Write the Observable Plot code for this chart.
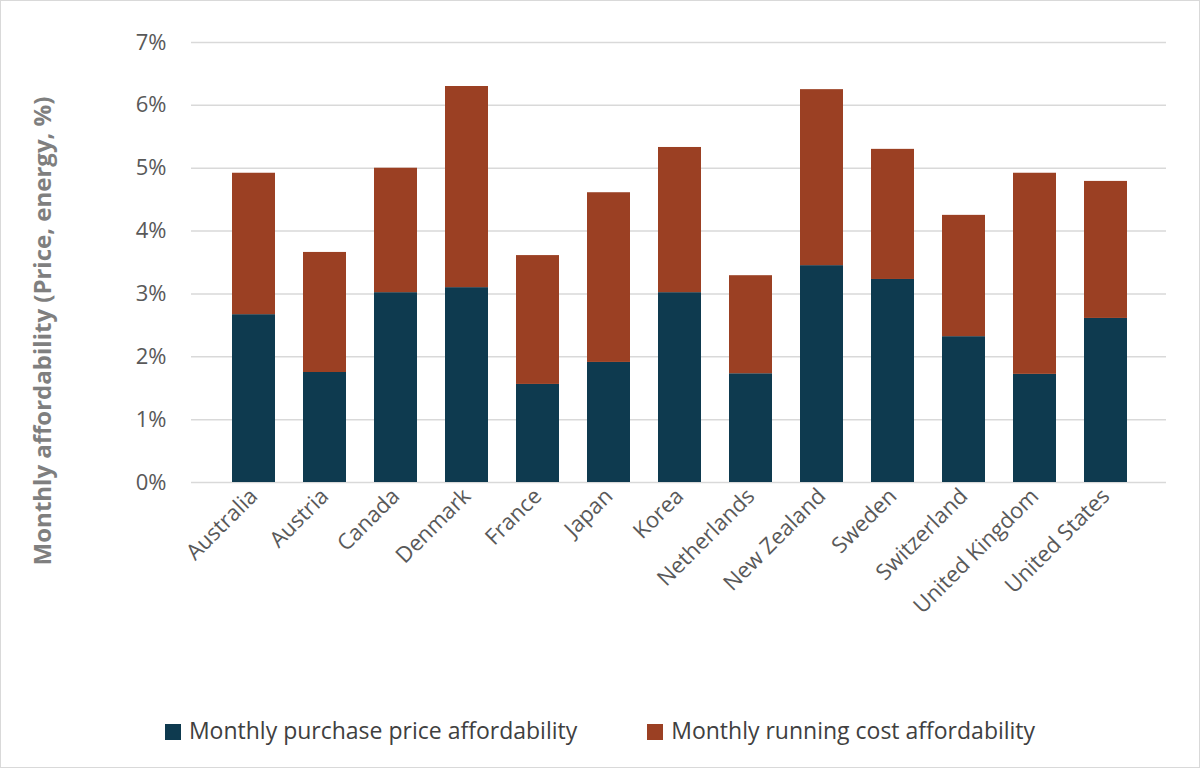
<!DOCTYPE html>
<html><head><meta charset="utf-8">
<script src="https://cdn.jsdelivr.net/npm/d3@7"></script>
<script src="https://cdn.jsdelivr.net/npm/@observablehq/plot@0.6"></script>
<style>
body{margin:0;background:#fff;font-family:"Open Sans",Arial,sans-serif;}
#wrap{position:absolute;left:0;top:0;width:1198px;height:766px;border:1px solid #d9d9d9;overflow:hidden;}
#chart{position:absolute;left:0;top:0;}
#ylab{position:absolute;left:40px;top:330px;transform:translate(-50%,-50%) rotate(-90deg);white-space:nowrap;font-size:24px;font-weight:bold;color:#7f7f7f;}
#legend{position:absolute;top:713px;left:0;width:1198px;display:flex;justify-content:center;gap:70px;font-size:23px;color:#404040;}
#legend span.sw{display:inline-block;width:16px;height:16px;margin-right:8px;vertical-align:-1px;}
</style></head><body>
<div id="wrap"><div id="chart"></div>
<div id="ylab">Monthly affordability (Price, energy, %)</div>
<div id="legend"><div><span class="sw" style="background:#0e3a4f"></span>Monthly purchase price affordability</div>
<div><span class="sw" style="background:#9b4023"></span>Monthly running cost affordability</div></div></div>
<script>
const countries=["Australia","Austria","Canada","Denmark","France","Japan","Korea","Netherlands","New Zealand","Sweden","Switzerland","United Kingdom","United States"];
const purchase=[2.67,1.75,3.02,3.10,1.56,1.91,3.02,1.73,3.45,3.23,2.32,1.72,2.61];
const total=[4.92,3.66,5.00,6.30,3.61,4.61,5.33,3.29,6.25,5.30,4.25,4.92,4.79];
const series=["Monthly purchase price affordability","Monthly running cost affordability"];
const colors=["#0e3a4f","#9b4023"];
const data=[];
countries.forEach((c,i)=>{data.push({c,s:series[0],v:purchase[i]});data.push({c,s:series[1],v:+(total[i]-purchase[i]).toFixed(2)});});
const chart=Plot.plot({
 width:1198,height:680,marginTop:41,marginBottom:199,marginLeft:200,marginRight:41,
 style:{fontSize:"22px",color:"#595959",fontFamily:"Open Sans, Arial, sans-serif",overflow:"visible"},
 x:{domain:countries,padding:0.39,label:null,tickRotate:-45,tickSize:0,tickPadding:10},
 y:{domain:[0,7],ticks:d3.range(0,8),tickFormat:d=>d+"%",tickSize:0,tickPadding:35,label:null},
 color:{domain:series,range:colors},
 marks:[
  Plot.ruleY(d3.range(0,8),{x1:-0.5,x2:12.5,stroke:"#d9d9d9",strokeWidth:1.5}),
  Plot.gridY(d3.range(0,8),{stroke:"#d9d9d9",strokeOpacity:1,strokeWidth:1.5,insetLeft:-10,insetRight:-8}),
  Plot.barY(data,{x:"c",y:"v",fill:"s",order:series})
 ]
});
document.getElementById("chart").appendChild(chart);
</script></body></html>
